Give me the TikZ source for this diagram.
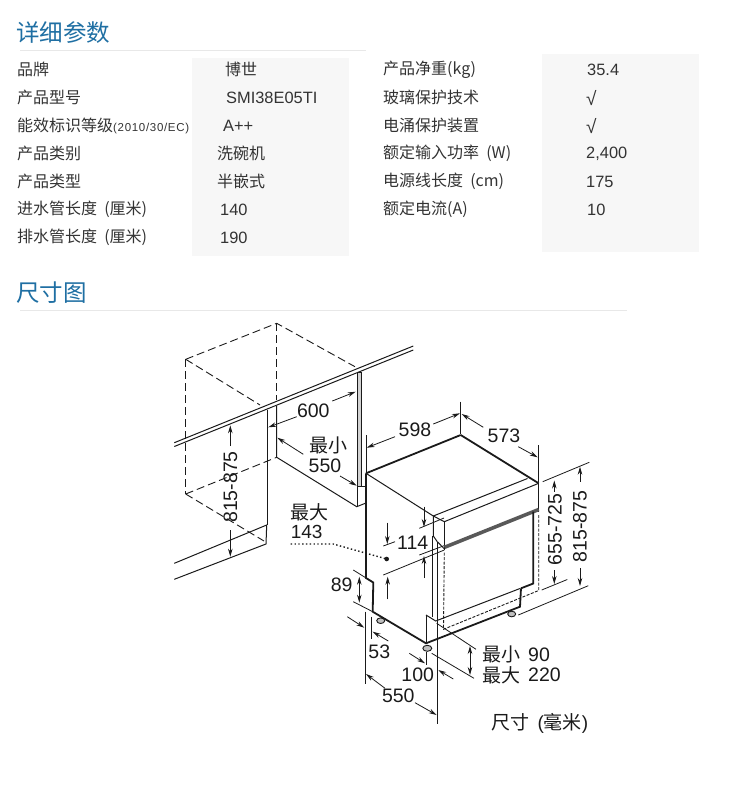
\documentclass[tikz,border=0pt]{standalone}
\usepackage{fontspec}
\setmainfont{Noto Sans CJK SC}
\newfontfamily\lat{Liberation Sans}
\usetikzlibrary{arrows.meta}
\definecolor{titleblue}{HTML}{1F6FA3}
\definecolor{ruleg}{HTML}{E8E8E8}
\definecolor{panelg}{HTML}{F7F7F7}
\definecolor{textg}{HTML}{333333}
\definecolor{inkg}{HTML}{1A1A1A}
\tikzset{
  title/.style={anchor=west, inner sep=0pt, text=titleblue, font=\fontsize{23.5}{24}\selectfont},
  cell/.style={anchor=west, inner sep=0pt, text=textg, font=\fontsize{16}{16}\selectfont},
  val/.style={anchor=west, inner sep=0pt, text=textg, font=\fontsize{16.4}{16}\selectfont\lat},
  tick/.style={anchor=west, inner sep=0pt, text=textg, font=\fontsize{19}{19}\selectfont\lat},
  size/.style={inner sep=0pt, text=inkg, font=\fontsize{19.5}{20}\selectfont\lat},
  sizecn/.style={inner sep=0pt, text=inkg, font=\fontsize{19}{19}\selectfont},
  body/.style={line width=1.8pt, draw=inkg},
  edge/.style={line width=1pt, draw=inkg},
  hidden/.style={line width=.9pt, draw=inkg, dash pattern=on 8pt off 4pt},
  extl/.style={line width=.8pt, draw=inkg},
  dimtip/.style={line width=.8pt, draw=inkg, ->, >={Stealth[length=8pt,width=4.5pt]}},
  foot/.style={draw=inkg, fill=gray!50, line width=.9pt},
}
\begin{document}
\begin{tikzpicture}[x=1pt,y=-1pt]
  \useasboundingbox (0,0) rectangle (750,793);

  % panels and rules
  \fill[panelg] (192,58) rectangle (349,256);
  \fill[panelg] (542,54) rectangle (699,252);
  \draw[ruleg, line width=.8pt] (20,50.5) -- (366,50.5);
  \draw[ruleg, line width=.8pt] (20,310) -- (627,310);

  \node[title] (specs) at (16,33) {详细参数};
  \node[title] (sizes) at (16,293) {尺寸图};

  % left table
  \node[cell] (brand) at (17,69.5) {品牌};
  \node[cell] (model) at (17,97.5) {产品型号};
  \node[cell] (energy) at (17,125.5) {能效标识等级{\lat\fontsize{11.5}{12}\selectfont\addfontfeature{LetterSpace=6}(2010/30/EC)}};
  \node[cell] (kind) at (17,153.5) {产品类别};
  \node[cell] (type) at (17,181.5) {产品类型};
  \node[cell] (inlet) at (17,209.5) {进水管长度{\lat\ \,}(厘米)};
  \node[cell] (drain) at (17,237.5) {排水管长度{\lat\ \,}(厘米)};
  \node[cell] (brandv) at (225,69.5) {博世};
  \node[val] (modelv) at (226,97.5) {SMI38E05TI};
  \node[val] (energyv) at (223,125.5) {A++};
  \node[cell] (kindv) at (217,153.5) {洗碗机};
  \node[cell] (typev) at (217,181.5) {半嵌式};
  \node[val] (inletv) at (220,209.5) {140};
  \node[val] (drainv) at (220,237.5) {190};

  % right table
  \node[cell] (weight) at (383,69.5) {产品净重(kg)};
  \node[cell] (glass) at (383,97.5) {玻璃保护技术};
  \node[cell] (surge) at (383,125.5) {电涌保护装置};
  \node[cell] (power) at (383,153.5) {额定输入功率{\lat\ \,}(W)};
  \node[cell] (cord) at (383,181.5) {电源线长度{\lat\ \,}(cm)};
  \node[cell] (current) at (383,209.5) {额定电流(A)};
  \node[val] (weightv) at (587,69.5) {35.4};
  \node[tick] (glassv) at (586,98) {√};
  \node[tick] (surgev) at (586,126) {√};
  \node[val] (powerv) at (586,153.5) {2,400};
  \node[val] (cordv) at (586,181.5) {175};
  \node[val] (currentv) at (587,209.5) {10};

  % cabinet
  \draw[hidden] (185.7,359.3) -- (276.7,323.3) -- (355,366.7);
  \draw[hidden] (185.7,359.3) -- (260,405);
  \draw[hidden] (276.7,323.3) -- (276.7,400);
  \draw[hidden] (185.7,359.3) -- (185.7,494);
  \draw[hidden] (185.7,494) -- (276.7,457.3);
  \draw[hidden] (185.7,494) -- (264,541);
  \draw[edge] (174.3,442.7) -- (413.3,346);
  \draw[edge] (174.3,446.5) -- (413.3,350);
  \draw[edge] (267.3,409.5) -- (267.3,525);
  \draw[edge] (276.7,406) -- (276.7,457.3) -- (356.7,506.7) -- (366,503);
  \draw[edge, fill=gray!35] (357.7,372) rectangle (361,486.7);
  \draw[edge] (357.7,486.7) -- (357.7,506) (357.7,486.7) -- (366,486.7);
  \draw[edge] (174.3,563.3) -- (266.7,525) -- (266,544) -- (174.3,579.3);

  % dishwasher
  \coordinate (topl) at (366,473.3);
  \coordinate (topb) at (460.7,435);
  \coordinate (topr) at (538.7,483.3);
  \coordinate (topf) at (433.3,516);
  \coordinate (panf) at (444.3,521.7);
  \coordinate (notch) at (373.3,582.5);
  \coordinate (botl) at (372.7,611.7);
  \coordinate (botf) at (426,643.3);
  \coordinate (botr) at (520,606.7);
  \draw[edge] (topl) -- (topf) -- (panf) -- (topr);
  \draw[edge] (topf) -- (527.5,478.5);
  \draw[edge] (topf) -- (433.3,536) -- (437.3,541.7);
  \draw[edge] (panf) -- (444.3,550);
  \draw[edge] (topr) -- (538.7,512);
  \draw[line width=3.6pt, draw=gray!70!black] (444.5,547.3) -- (538.7,509.5);
  \draw[edge] (437.3,541.7) -- (444.5,549);
  \draw[hidden, dash pattern=on 3pt off 1.5pt] (538.7,515) -- (538.7,590.5) -- (443.5,629.3) -- (444.3,552);
  \draw[edge] (432.7,536) -- (432.7,616.7);
  \draw[edge] (437.3,541.7) -- (437.3,621);
  \draw[body] (533.3,511.7) -- (533.3,583.5) -- (521,588.3);
  \draw[edge] (426,615) -- (435.7,621) -- (520,588.5);
  \draw[edge] (426,615) -- (426,643);
  \draw[body] (460.7,435) -- (topr);
  \draw[body] (topl) -- (topb);
  \draw[body] (topl) -- (366,578) -- (notch) -- (botl) -- (botf) -- (botr) -- (521,588.3);

  % feet
  \draw[foot] (380.7,620.7) ellipse (4pt and 2.8pt);
  \draw[foot] (427.3,648.3) ellipse (4.5pt and 3pt);
  \draw[foot] (511.7,614) ellipse (4pt and 2.8pt);

  % width and depth of the niche
  \draw[dimtip] (230.3,446) -- (230.3,425.3);
  \draw[dimtip] (230.3,530) -- (230.3,556.7);
  \node[size, rotate=90] (nichehigh) at (230.3,487) {815-875};
  \draw[dimtip] (296.7,416.7) -- (268.3,427.3);
  \draw[dimtip] (332.3,401) -- (355.7,391.7);
  \node[size] (nichewide) at (313.3,410.7) {600};
  \draw[dimtip] (303.3,454.3) -- (277.3,437.7);
  \draw[dimtip] (340,476) -- (356.7,485.7);
  \node[sizecn] (nicheminc) at (328.3,445) {最小};
  \node[size] (nichemin) at (325,465.3) {550};

  % hose
  \node[sizecn] (hosec) at (309.3,512.3) {最大};
  \node[size, font=\fontsize{19}{19}\selectfont\lat] (hose) at (306.7,532.3) {143};
  \fill[inkg] (386.7,559) circle (2.3pt) coordinate (hoseend);
  \draw[inkg, line width=1.4pt, dash pattern=on 1.4pt off 2.4pt] (290.7,544) -- (333.3,544) -- (hoseend);

  % outer size
  \draw[extl] (366,435) -- (366,472);
  \draw[extl] (460.7,401.7) -- (460.7,434);
  \draw[extl] (538.3,445) -- (538.3,482);
  \draw[dimtip] (395,436.7) -- (366.7,447.7);
  \draw[dimtip] (433.3,424) -- (460,413.3);
  \node[size] (width) at (415,430) {598};
  \draw[dimtip] (483.3,427.3) -- (461.7,414);
  \draw[dimtip] (518.3,446.7) -- (537.7,457.3);
  \node[size] (depth) at (504,436) {573};

  % heights at right
  \draw[extl] (542.7,481.7) -- (589.3,462.3);
  \draw[extl] (541.7,590) -- (567.3,579.5);
  \draw[extl] (518.3,615) -- (588.3,585.7);
  \draw[dimtip] (554.3,491.7) -- (554.3,480.5);
  \draw[dimtip] (554.3,570) -- (554.3,584);
  \node[size, rotate=90] (bodyhigh) at (555,529.3) {655-725};
  \draw[dimtip] (580,481.7) -- (580,466.7);
  \draw[dimtip] (580,568) -- (580,586);
  \node[size, rotate=90] (totalhigh) at (580,526.7) {815-875};

  % panel 114
  \draw[extl] (419.3,528.3) -- (444,518);
  \draw[extl] (419.3,555) -- (444,545.7);
  \draw[extl] (383.3,546) -- (395,541.7);
  \draw[extl] (383.3,575) -- (444.3,550);
  \draw[dimtip] (424,506.7) -- (424,527);
  \draw[dimtip] (424,578) -- (424,556);
  \draw[dimtip] (387.3,522.7) -- (387.3,544);
  \draw[dimtip] (387.7,599.3) -- (387.7,576.7);
  \node[size] (door) at (412.7,542.7) {114};

  % plinth 89
  \draw[extl] (353.3,570) -- (notch);
  \draw[extl] (353.3,601.7) -- (botl);
  \draw[dimtip, <->] (359.3,576.7) -- (359.3,602.7);
  \node[size] (plinth) at (341.7,585) {89};

  % feet spacing
  \draw[extl] (365,611.7) -- (365,684);
  \draw[extl] (371.7,616.7) -- (371.7,639.3);
  \draw[dimtip] (347.3,616.7) -- (364.3,627.7);
  \draw[dimtip] (388.3,641) -- (372.7,631.7);
  \node[size] (footback) at (379.3,651.7) {53};
  \draw[extl] (426,651.7) -- (426,665);
  \draw[extl] (437.3,621) -- (437.3,724);
  \draw[dimtip] (409.3,653.3) -- (425,663.3);
  \draw[dimtip] (453.3,679) -- (438.3,670);
  \node[size] (footfront) at (417.7,675) {100};
  \draw[dimtip] (385,688.3) -- (366,674);
  \draw[dimtip] (415,702.7) -- (436.7,715);
  \node[size] (bottom) at (398.3,695.7) {550};

  % foot height
  \draw[extl] (436.7,623.3) -- (476,649.3);
  \draw[extl] (431.7,653.3) -- (474,678.3);
  \draw[dimtip, <->] (470,646) -- (470,675);
  \node[sizecn, anchor=west] (footminc) at (482.5,654.5) {最小};
  \node[size, anchor=west] (footmin) at (528,654.5) {90};
  \node[sizecn, anchor=west] (footmaxc) at (482.5,675) {最大};
  \node[size, anchor=west] (footmax) at (528,675) {220};

  \node[sizecn, anchor=west] (unit) at (491,723) {尺寸{\lat\ \,(}毫米{\lat )}};
\end{tikzpicture}
\end{document}
